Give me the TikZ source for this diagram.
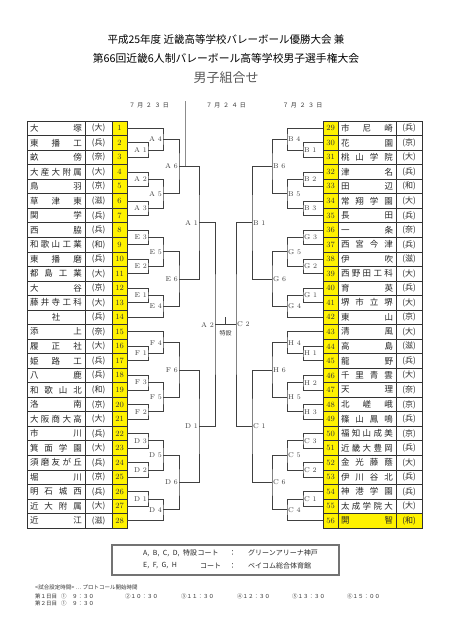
\documentclass[tikz,border=0pt]{standalone}
\usepackage{fontspec}
\newfontfamily\jp{Noto Sans CJK JP}
\usetikzlibrary{calc, positioning}

\makeatletter
\newcommand\spread[1]{\spread@a#1\@nil}
\def\spread@a#1#2\@nil{#1\ifx\relax#2\relax\else\hfill\spread@a#2\@nil\fi}
\makeatother

\tikzset{
  bline/.style={line width=0.7pt, black!75},
  grid/.style={line width=0.6pt, black!80},
  mlbl/.style={font=\fontsize{7}{7}\selectfont, inner sep=1pt, text=black!75},
  tname/.style={font=\jp\fontsize{8.5}{8.5}\selectfont, inner sep=0pt, text=black!85},
  tpref/.style={font=\jp\fontsize{8}{8}\selectfont, inner sep=0pt, text=black!85},
  tnum/.style={font=\fontsize{8}{8}\selectfont, inner sep=0pt, text=black!80},
  dayhead/.style={font=\jp\fontsize{6}{6}\selectfont, inner sep=0pt, text=black!80},
  small/.style={font=\jp\fontsize{5.5}{5.5}\selectfont, inner sep=0pt, text=black!80, anchor=west},
  legend/.style={font=\jp\fontsize{7}{7}\selectfont, inner sep=0pt, text=black!85, anchor=west},
}

\newcommand\lmatch[5]{%
  \coordinate (tmp) at ($(#2)!.5!(#3)$);
  \coordinate (#1) at (#4,0 |- tmp);
  \draw[bline] (#2) -| (#1) |- (#3);
  \node[mlbl, anchor=east] (l#1) at (#1) {#5};
}
\newcommand\rmatch[5]{%
  \coordinate (tmp) at ($(#2)!.5!(#3)$);
  \coordinate (#1) at (#4,0 |- tmp);
  \draw[bline] (#2) -| (#1) |- (#3);
  \node[mlbl, anchor=west] (l#1) at (#1) {#5};
}

\begin{document}
\begin{tikzpicture}[x=1pt,y=-1pt]
\useasboundingbox[fill=white] (0,0) rectangle (452,640);
\def\rowh{14.536}
\def\rowtop{121}
\def\rowbot{528}

\node[font=\jp\fontsize{10.5}{10.5}\selectfont] (title1) at (226,40) {平成25年度 近畿高等学校バレーボール優勝大会 兼};
\node[font=\jp\fontsize{10.8}{10.8}\selectfont] (title2) at (226,58) {第66回近畿6人制バレーボール高等学校男子選手権大会};
\node[font=\jp\fontsize{13}{13}\selectfont, text=black!65] (title3) at (226,78) {男子組合せ};

\node[dayhead] (day1) at (149,105.5) {\makebox[40pt]{\spread{７月２３日}}};
\node[dayhead] (day2) at (226,105.5) {\makebox[40pt]{\spread{７月２４日}}};
\node[dayhead] (day3) at (302.5,105.5) {\makebox[40pt]{\spread{７月２３日}}};

\fill[yellow] (112,\rowtop) rectangle (127,\rowbot);
\fill[yellow] (323,\rowtop) rectangle (338,\rowbot);
\fill[yellow] (338,\rowtop+27*\rowh) rectangle (422,\rowbot);

\foreach \n/\p [count=\i] in {大塚/大, 東播工/兵, 畝傍/奈, 大産大附属/大, 鳥羽/京, 草津東/滋, 関学/兵,
    西脇/兵, 和歌山工業/和, 東播磨/兵, 都島工業/大, 大谷/京, 藤井寺工科/大, 社/兵,
    添上/奈, 履正社/大, 姫路工/兵, 八鹿/兵, 和歌山北/和, 洛南/京, 大阪商大高/大,
    市川/兵, 箕面学園/大, 須磨友が丘/兵, 堀川/京, 明石城西/兵, 近大附属/大, 近江/滋}{
  \pgfmathsetmacro{\yc}{\rowtop+\rowh*(\i-0.5)}
  \coordinate (t\i) at (127,\yc);
  \node[tname] (n\i) at (56,\yc) {\makebox[52pt]{\expandafter\spread\expandafter{\n}}};
  \node[tpref] (p\i) at (98.5,\yc) {(\p)};
  \node[tnum] (k\i) at (119.5,\yc) {\i};
}
\foreach \n/\p [count=\i from 29] in {市尼崎/兵, 花園/京, 桃山学院/大, 津名/兵, 田辺/和, 常翔学園/大, 長田/兵,
    一条/奈, 西宮今津/兵, 伊吹/滋, 西野田工科/大, 育英/兵, 堺市立堺/大, 東山/京,
    清風/大, 高島/滋, 龍野/兵, 千里青雲/大, 天理/奈, 北嵯峨/京, 篠山鳳鳴/兵,
    福知山成美/京, 近畿大豊岡/兵, 金光藤蔭/大, 伊川谷北/兵, 神港学園/兵, 太成学院大/大, 開智/和}{
  \pgfmathsetmacro{\yc}{\rowtop+\rowh*(\i-28.5)}
  \coordinate (t\i) at (323,\yc);
  \node[tname] (n\i) at (367,\yc) {\makebox[52pt]{\expandafter\spread\expandafter{\n}}};
  \node[tpref] (p\i) at (409,\yc) {(\p)};
  \node[tnum] (k\i) at (330.5,\yc) {\i};
}

\draw[grid] (27,\rowtop) rectangle (127,\rowbot);
\draw[grid] (85,\rowtop) -- (85,\rowbot) (112,\rowtop) -- (112,\rowbot);
\draw[grid] (323,\rowtop) rectangle (422,\rowbot);
\draw[grid] (338,\rowtop) -- (338,\rowbot) (396,\rowtop) -- (396,\rowbot);
\foreach \k in {1,...,27}{
  \draw[grid] (27,\rowtop+\k*\rowh) -- (127,\rowtop+\k*\rowh);
  \draw[grid] (323,\rowtop+\k*\rowh) -- (422,\rowtop+\k*\rowh);
}

\lmatch{A1}{t2}{t3}{148}{A 1}
\lmatch{A4}{t1}{A1}{163}{A 4}
\lmatch{A2}{t4}{t5}{148}{A 2}
\lmatch{A3}{t6}{t7}{148}{A 3}
\lmatch{A5}{A2}{A3}{163}{A 5}
\lmatch{A6}{A4}{A5}{179}{A 6}
\lmatch{E3}{t8}{t9}{148}{E 3}
\lmatch{E2}{t10}{t11}{148}{E 2}
\lmatch{E5}{E3}{E2}{163}{E 5}
\lmatch{E1}{t12}{t13}{148}{E 1}
\lmatch{E4}{E1}{t14}{163}{E 4}
\lmatch{E6}{E5}{E4}{179}{E 6}
\lmatch{F1}{t16}{t17}{148}{F 1}
\lmatch{F4}{t15}{F1}{163}{F 4}
\lmatch{F3}{t18}{t19}{148}{F 3}
\lmatch{F2}{t20}{t21}{148}{F 2}
\lmatch{F5}{F3}{F2}{163}{F 5}
\lmatch{F6}{F4}{F5}{179}{F 6}
\lmatch{D3}{t22}{t23}{148}{D 3}
\lmatch{D2}{t24}{t25}{148}{D 2}
\lmatch{D5}{D3}{D2}{163}{D 5}
\lmatch{D1}{t26}{t27}{148}{D 1}
\lmatch{D4}{D1}{t28}{163}{D 4}
\lmatch{D6}{D5}{D4}{179}{D 6}
\lmatch{qA1}{A6}{E6}{199}{A 1}
\lmatch{qD1}{F6}{D6}{199}{D 1}
\lmatch{sA2}{qA1}{qD1}{215}{A 2}

\rmatch{B1}{t30}{t31}{303}{B 1}
\rmatch{B4}{t29}{B1}{287}{B 4}
\rmatch{B2}{t32}{t33}{303}{B 2}
\rmatch{B3}{t34}{t35}{303}{B 3}
\rmatch{B5}{B2}{B3}{287}{B 5}
\rmatch{B6}{B4}{B5}{272}{B 6}
\rmatch{G3}{t36}{t37}{303}{G 3}
\rmatch{G2}{t38}{t39}{303}{G 2}
\rmatch{G5}{G3}{G2}{287}{G 5}
\rmatch{G1}{t40}{t41}{303}{G 1}
\rmatch{G4}{G1}{t42}{287}{G 4}
\rmatch{G6}{G5}{G4}{272}{G 6}
\rmatch{H1}{t44}{t45}{303}{H 1}
\rmatch{H4}{t43}{H1}{287}{H 4}
\rmatch{H2}{t46}{t47}{303}{H 2}
\rmatch{H3}{t48}{t49}{303}{H 3}
\rmatch{H5}{H2}{H3}{287}{H 5}
\rmatch{H6}{H4}{H5}{272}{H 6}
\rmatch{C3}{t50}{t51}{303}{C 3}
\rmatch{C2}{t52}{t53}{303}{C 2}
\rmatch{C5}{C3}{C2}{287}{C 5}
\rmatch{C1}{t54}{t55}{303}{C 1}
\rmatch{C4}{C1}{t56}{287}{C 4}
\rmatch{C6}{C5}{C4}{272}{C 6}
\rmatch{qB1}{B6}{G6}{252}{B 1}
\rmatch{qC1}{H6}{C6}{252}{C 1}
\rmatch{sC2}{qB1}{qC1}{236}{C 2}

\draw[bline] (sA2) -- (sC2);
\coordinate (fin) at ($(sA2)!.5!(sC2)$);
\draw[bline] (fin) -- ++(0,-8);
\node[font=\jp\fontsize{6}{6}\selectfont, text=black!80] (tokusetsu) at ($(fin)+(0,9)$) {特設};
\draw[black!45, line width=0.4pt] (185,101) -- (A6 -| 185,0);

\draw[line width=2pt, black!55] (111.7,545) rectangle (339.3,575);
\node[legend] (lg1a) at (143,553) {A,\enspace B,\enspace C,\enspace D,\enspace 特設};
\node[legend] (lg1b) at (lg1a.east) {コート};
\node[legend] (lg1c) at (229,553) {：};
\node[legend] (lg1d) at (248,553) {グリーンアリーナ神戸};
\node[legend] (lg2a) at (143,566) {E,\enspace F,\enspace G,\enspace H};
\node[legend] (lg2b) at (200,566) {コート};
\node[legend] (lg2c) at (229,566) {：};
\node[legend] (lg2d) at (248,566) {ベイコム総合体育館};

\node[small] (ft0) at (35,587) {<試合設定時間> … プロトコール開始時間};
\node[small] (ft1) at (35,596.5) {第１日目};
\node[small] (ft1a) at (61,596.5) {①\quad ９：３０};
\node[small] (ft1b) at (125,596.5) {②１０：３０};
\node[small] (ft1c) at (181,596.5) {③１１：３０};
\node[small] (ft1d) at (237,596.5) {④１２：３０};
\node[small] (ft1e) at (292,596.5) {⑤１３：３０};
\node[small] (ft1f) at (347,596.5) {⑥１５：００};
\node[small] (ft2) at (35,603) {第２日目};
\node[small] (ft2a) at (61,603) {①\quad ９：３０};
\end{tikzpicture}
\end{document}
